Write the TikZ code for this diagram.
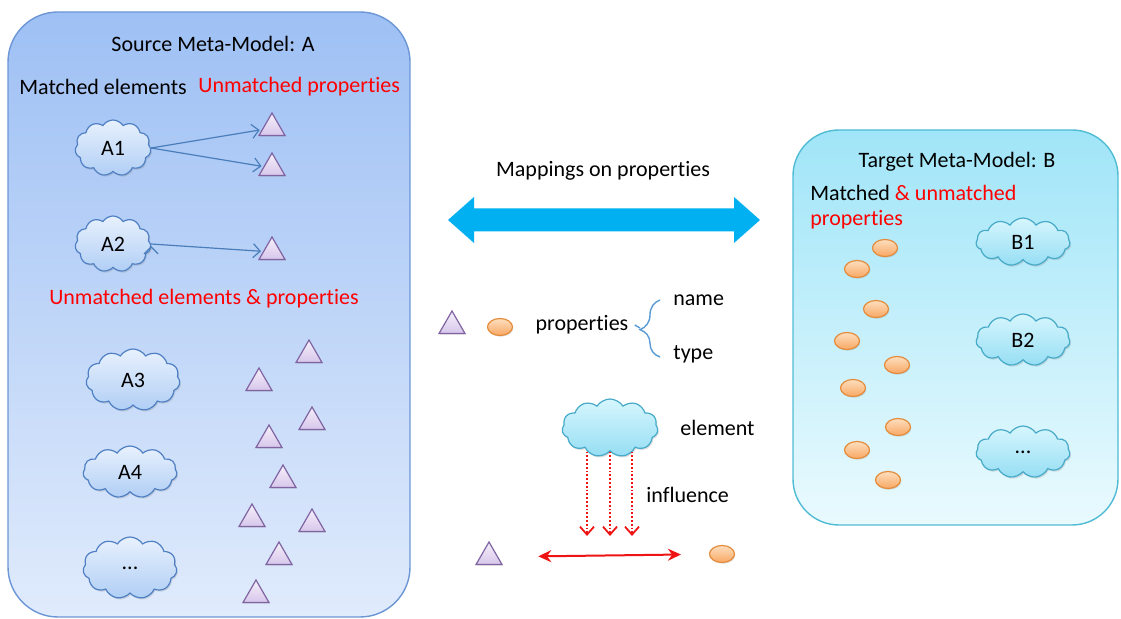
\documentclass[tikz,border=0pt]{standalone}
\usepackage{fontspec}
\setmainfont{Carlito}[Ligatures=NoCommon]
\usepackage{tikz}
\usetikzlibrary{positioning}
\usetikzlibrary{arrows.meta,shapes.symbols,shapes.geometric,decorations.pathreplacing,shadows}

\definecolor{boxAtop}{RGB}{158,192,244}
\definecolor{boxAbot}{RGB}{224,235,252}
\definecolor{boxAline}{RGB}{108,150,214}
\definecolor{boxBtop}{RGB}{160,229,248}
\definecolor{boxBbot}{RGB}{234,250,254}
\definecolor{boxBline}{RGB}{80,188,212}
\definecolor{cloudAtop}{RGB}{232,241,253}
\definecolor{cloudAbot}{RGB}{176,206,245}
\definecolor{cloudAline}{RGB}{80,128,196}
\definecolor{cloudBtop}{RGB}{214,246,253}
\definecolor{cloudBbot}{RGB}{150,222,244}
\definecolor{cloudBline}{RGB}{70,170,200}
\definecolor{triTop}{RGB}{246,240,251}
\definecolor{triBot}{RGB}{214,198,234}
\definecolor{triLine}{RGB}{128,100,162}
\definecolor{ellTop}{RGB}{253,222,190}
\definecolor{ellBot}{RGB}{248,168,100}
\definecolor{ellLine}{RGB}{228,140,60}
\definecolor{mapBlue}{RGB}{0,176,240}
\definecolor{linkBlue}{RGB}{74,126,187}
\definecolor{braceBlue}{RGB}{91,155,213}
\definecolor{hot}{RGB}{238,20,20}

\begin{document}
\begin{tikzpicture}[x=0.5pt,y=-0.5pt,font=\fontsize{11}{13}\selectfont,
    every node/.append style={inner sep=0pt},
    boxA/.style={draw=boxAline,line width=0.7pt,rounded corners=25pt,top color=boxAtop,bottom color=boxAbot},
    boxB/.style={draw=boxBline,line width=0.7pt,rounded corners=23pt,top color=boxBtop,bottom color=boxBbot},
    elemA/.style={cloud,cloud puffs=11,cloud puff arc=115,cloud ignores aspect,draw=cloudAline,line width=0.6pt,
                  top color=cloudAtop,bottom color=cloudAbot,minimum width=38pt,minimum height=28pt,
                  drop shadow={opacity=.25,shadow xshift=.6pt,shadow yshift=-.8pt}},
    elemB/.style={elemA,draw=cloudBline,top color=cloudBtop,bottom color=cloudBbot},
    prop/.style={regular polygon,regular polygon sides=3,minimum size=15pt,draw=triLine,line width=0.6pt,
                 top color=triTop,bottom color=triBot,
                 drop shadow={opacity=.25,shadow xshift=.4pt,shadow yshift=-.6pt}},
    attr/.style={ellipse,minimum width=12.5pt,minimum height=8.5pt,draw=ellLine,line width=0.6pt,
                 top color=ellTop,bottom color=ellBot,
                 drop shadow={opacity=.25,shadow xshift=.4pt,shadow yshift=-.6pt}},
    link/.style={draw=linkBlue,line width=0.6pt,-{Straight Barb[length=3.5pt,width=7pt]},shorten >=1pt},
    infl/.style={draw=hot,densely dotted,line width=0.9pt,-{Straight Barb[length=4pt,width=7pt]}},
    pair/.style={draw=hot,line width=1pt,{Stealth[length=6.5pt,width=6pt]}-{Stealth[length=6.5pt,width=6pt]},
                 shorten <=20pt,shorten >=14pt}]
  \useasboundingbox (0,0) rectangle (1121,619);

  % source meta-model
  \draw[boxA] (8,12) rectangle (410,617);
  \node (SrcTitle)                at (213,44)  {Source Meta-Model: A};
  \node[anchor=west] (MatchedEl)  at (19,87)   {Matched elements};
  \node[anchor=west,red] (UnmProp) at (198,87) {Unmatched properties};
  \node[elemA] (A1) at (113,148) {A1};
  \node[elemA] (A2) at (113,244) {A2};
  \node[prop]  (P1) at (272,128) {};
  \node[prop]  (P2) at (272,168) {};
  \node[prop]  (P3) at (272,252) {};
  \path[link] (A1.east) edge (P1)
              (A1.east) edge (P2)
              (A2.east) edge (P3);
  \node[red] (UnmElProp) at (204,299) {Unmatched elements \& properties};
  \node[elemA,minimum width=47pt,minimum height=31pt] (A3)   at (133,380) {A3};
  \node[elemA,minimum width=47pt,minimum height=26pt] (A4)   at (130,472) {A4};
  \node[elemA,minimum width=47pt,minimum height=31pt] (Amore) at (130,568) {...};
  \foreach \x/\y [count=\i] in {309/355,259/383,312/422,269/440,283/480,252/519,312/524,279/557,256/595}
    \node[prop] (U\i) at (\x,\y) {};

  % mappings in the middle
  \node (MapLbl) at (603,171) {Mappings on properties};
  \fill[mapBlue] (448,220) -- (474,197) -- (474,208.5) -- (734,208.5) -- (734,197) -- (760,220)
                 -- (734,243) -- (734,231.5) -- (474,231.5) -- (474,243) -- cycle;

  % legend
  \node[prop] (LegTri) at (452,326) {};
  \node[attr] (LegEll) at (500,327) {};
  \node (Props) at (582,325) {properties};
  \coordinate (BraceTip) at (640,328);
  \draw[braceBlue,line width=0.7pt,decorate,decoration={brace,amplitude=10pt,aspect=0.48}]
    (660,357) -- (660,300);
  \draw[braceBlue,line width=0.7pt] (Props.east) ++(3pt,0) -- (BraceTip);
  \node[anchor=west] (Name) at (673,300) {name};
  \node[anchor=west] (Type) at (673,354) {type};

  \node[elemB,minimum width=48pt,minimum height=29pt] (Elem) at (610,428) {};
  \node[anchor=west] (ElemLbl) at (680,428) {element};
  \node[anchor=west] (InflLbl) at (646,495) {influence};
  \coordinate (Inf1) at (587,536);
  \coordinate (Inf2) at (610,536);
  \coordinate (Inf3) at (632,536);
  \foreach \i in {1,2,3}
    \draw[infl] (Elem.south -| Inf\i) -- (Inf\i);

  \node[prop] (PairTri) at (489,557) {};
  \node[attr] (PairEll) at (722,554) {};
  \draw[pair] (PairTri) -- (PairEll);

  % target meta-model
  \draw[boxB] (793,130) rectangle (1118,525);
  \node (TgtTitle) at (957,162) {Target Meta-Model: B};
  \node[anchor=west] (MatchedB) at (810,193) {Matched \textcolor{red}{\& unmatched}};
  \node[anchor=west,red] (UnmB) at (810,220) {properties};
  \node[elemB,minimum width=47pt,minimum height=24pt] (B1)    at (1023,242) {B1};
  \node[elemB,minimum width=47pt,minimum height=26pt] (B2)    at (1023,340) {B2};
  \node[elemB,minimum width=47pt,minimum height=26pt] (Bmore) at (1023,452) {...};
  \foreach \x/\y [count=\i] in {885/248,857/269,876/309,847/341,897/365,853/388,898/427,857/450,888/480}
    \node[attr] (V\i) at (\x,\y) {};
\end{tikzpicture}
\end{document}
